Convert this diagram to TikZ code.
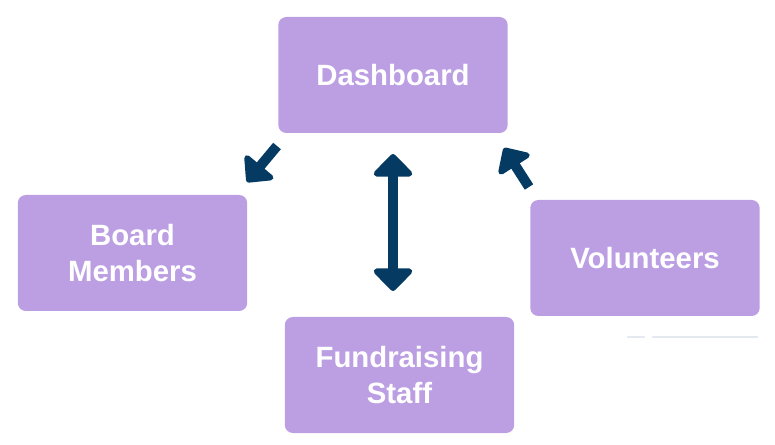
\documentclass[tikz,border=0pt]{standalone}
\usepackage{fontspec}
\setmainfont{Liberation Sans}
\usepackage{tikz}
\usetikzlibrary{arrows.meta}

\definecolor{boxpurple}{HTML}{BC9FE3}
\definecolor{arrownavy}{HTML}{053A63}
\definecolor{faintline}{HTML}{E3E9EF}

\begin{document}
\begin{tikzpicture}[x=0.75pt, y=-0.75pt,
		every node/.style={rectangle, rounded corners=6pt, fill=boxpurple, text=white, font=\fontsize{22}{27}\selectfont\bfseries, align=center, minimum width=172pt, minimum height=87pt},
		flow/.style={draw=arrownavy, line width=7.5pt, -{Triangle[width=32pt,length=17pt,round]}},
		twoway/.style={draw=arrownavy, line width=7.5pt, {Triangle[width=34pt,length=18pt,round]}-{Triangle[width=34pt,length=18pt,round]}}]
				\useasboundingbox (0,0) rectangle (775,445);
				\node (dash) at (393,75) {Dashboard};
				\node (board) at (132.5,253) {Board\\Members};
				\node (vol) at (645,258) {Volunteers};
				\node (staff) at (399.5,375) {Fundraising\\Staff};
				
				\coordinate (b1) at (277,146);
				\coordinate (b2) at (247,182);
				\coordinate (v1) at (529,187);
				\coordinate (v2) at (504,148);
				\coordinate (s1) at (393,154);
				\coordinate (s2) at (393,291);
				
				\path[flow] (b1) -- (b2);
				\path[flow] (v1) -- (v2);
				\path[twoway] (s1) -- (s2);
				
				\draw[faintline, line width=2.2pt, line cap=round] (628,337) -- (644,337) (653,337) -- (757,337);
\end{tikzpicture}
\end{document}
